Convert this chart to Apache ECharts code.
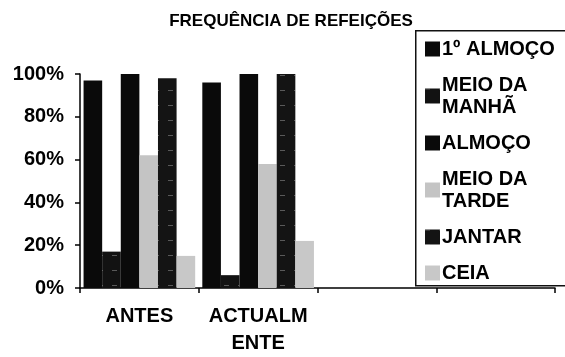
<!DOCTYPE html>
<html>
<head>
<meta charset="utf-8">
<title>Frequência de refeições</title>
<script src="https://cdn.jsdelivr.net/npm/echarts@6/dist/echarts.min.js"></script>
<style>
  html, body { margin: 0; padding: 0; background: #fff; }
  #chart { width: 565px; height: 357px; }
</style>
</head>
<body>
<div id="chart"></div>
<script>
// dados
var categorias = ['ANTES', 'ACTUALMENTE', '', ''];
var refeicoes = ['1º ALMOÇO', 'MEIO DA MANHÃ', 'ALMOÇO', 'MEIO DA TARDE', 'JANTAR', 'CEIA'];
var primeiroAlmoco = [97, 96];
var meioManha = [17, 6];
var almoco = [100, 100];
var meioTarde = [62, 58];
var jantar = [98, 100];
var ceia = [15, 22];
var yTicks = [0, 20, 40, 60, 80, 100];

var valores = [primeiroAlmoco, meioManha, almoco, meioTarde, jantar, ceia];

// quebras de linha como no original
var legendaTxt = {
    'MEIO DA MANHÃ': 'MEIO DA\nMANHÃ',
    'MEIO DA TARDE': 'MEIO DA\nTARDE'
};

var dashDark = {
    color: 'rgba(255,255,255,0.3)',
    symbol: 'rect',
    symbolSize: 1,
    dashArrayX: [[5, 9]],
    dashArrayY: [1, 14],
    rotation: 0
};
var stripeGrey = {
    color: 'rgba(60,60,60,0.5)',
    symbol: 'rect',
    symbolSize: 1,
    dashArrayX: [[1, 3]],
    dashArrayY: [[4, 1]],
    rotation: 0
};

var estilos = [
    { color: '#0a0a0a' },
    { color: '#121212', decal: dashDark },
    { color: '#0a0a0a' },
    { color: '#c4c4c4', decal: stripeGrey },
    { color: '#141414', decal: dashDark },
    { color: '#c8c8c8', decal: stripeGrey }
];

var fonte = 'Liberation Sans, Arial, sans-serif';

var chart = echarts.init(document.getElementById('chart'));
chart.setOption({
    animation: false,
    backgroundColor: '#fff',
    title: {
        text: 'FREQUÊNCIA DE REFEIÇÕES',
        left: 286,
        textAlign: 'center',
        top: 8,
        textStyle: { fontFamily: fonte, fontWeight: 'bold', fontSize: 17, color: '#000' }
    },
    graphic: [{
        type: 'rect',
        left: 415,
        top: 30,
        shape: { width: 200, height: 255 },
        style: { fill: '#fff', stroke: '#111', lineWidth: 1.5 },
        z: 50
    }],
    legend: {
        orient: 'vertical',
        left: 425,
        top: 38,
        padding: 0,
        itemGap: 14,
        itemWidth: 15,
        itemHeight: 15,
        icon: 'rect',
        z: 60,
        data: refeicoes,
        formatter: function (n) { return legendaTxt[n] || n; },
        textStyle: {
            fontFamily: fonte, fontWeight: 'bold', fontSize: 20,
            color: '#000', lineHeight: 22, padding: [0, 0, 0, -3]
        }
    },
    grid: { left: 80, right: 10, top: 74, bottom: 68 },
    xAxis: {
        type: 'category',
        data: categorias,
        axisLine: { lineStyle: { color: '#000', width: 1.5 } },
        axisTick: { show: true, interval: 0, length: 5, lineStyle: { color: '#000', width: 1.5 } },
        axisLabel: {
            interval: 0,
            fontFamily: fonte, fontWeight: 'bold', fontSize: 20, color: '#000',
            margin: 15, lineHeight: 27,
            formatter: function (v) { return v === 'ACTUALMENTE' ? 'ACTUALM\nENTE' : v; }
        }
    },
    yAxis: {
        type: 'value',
        min: yTicks[0],
        max: yTicks[yTicks.length - 1],
        interval: 20,
        splitLine: { show: false },
        axisLine: { show: true, lineStyle: { color: '#000', width: 1.5 } },
        axisTick: { show: true, length: 5, lineStyle: { color: '#000', width: 1.5 } },
        axisLabel: {
            fontFamily: fonte, fontWeight: 'bold', fontSize: 20, color: '#000',
            margin: 16,
            formatter: '{value}%'
        }
    },
    series: refeicoes.map(function (nome, i) {
        return {
            name: nome,
            type: 'bar',
            data: valores[i],
            barGap: 0,
            barCategoryGap: '6%',
            itemStyle: estilos[i]
        };
    })
});
</script>
</body>
</html>
